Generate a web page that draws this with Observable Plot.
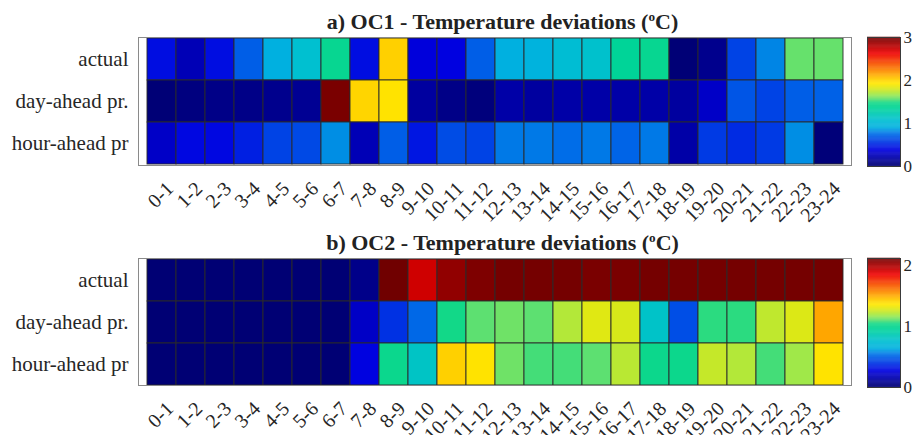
<!DOCTYPE html>
<html><head><meta charset="utf-8">
<script src="https://cdn.jsdelivr.net/npm/d3@7"></script>
<script src="https://cdn.jsdelivr.net/npm/@observablehq/plot@0.6"></script>
<style>
body{margin:0;background:#fff}
#c{position:relative;width:914px;height:435px;overflow:hidden;font-family:"Liberation Serif","Times New Roman",serif;background:#fff}
.t{position:absolute;left:146px;width:713px;text-align:center;font-weight:bold;font-size:22px;line-height:22px;color:#222;white-space:nowrap}
.t sup{font-size:0.6em;line-height:0;vertical-align:0.6em}
.p{position:absolute;overflow:visible}
</style></head>
<body><div id="c"></div>
<script>
// ---- data ----
const hours = ["0-1","1-2","2-3","3-4","4-5","5-6","6-7","7-8","8-9","9-10","10-11","11-12","12-13","13-14","14-15","15-16","16-17","17-18","18-19","19-20","20-21","21-22","22-23","23-24"];
const rowLabels = ["actual","day-ahead pr.","hour-ahead pr"];

const oc1Actual    = [0.42,0.24,0.42,0.69,0.90,1.08,1.40,0.42,2.01,0.36,0.38,0.69,0.90,0.93,1.05,1.10,1.35,1.40,0.02,0.10,0.60,0.80,1.57,1.57];
const oc1DayAhead  = [0.02,0.05,0.08,0.08,0.10,0.12,2.97,1.99,1.94,0.16,0.08,0.04,0.19,0.16,0.19,0.19,0.19,0.19,0.16,0.30,0.66,0.60,0.69,0.70];
const oc1HourAhead = [0.30,0.40,0.40,0.48,0.60,0.62,0.82,0.24,0.69,0.45,0.63,0.60,0.77,0.77,0.74,0.77,0.71,0.77,0.19,0.57,0.52,0.57,0.82,0.03];

const oc2Actual    = [0.01,0.01,0.01,0.01,0.01,0.01,0.01,0.06,2.12,1.92,2.05,2.09,2.11,2.11,2.11,2.10,2.10,2.11,2.11,2.11,2.11,2.11,2.11,2.11];
const oc2DayAhead  = [0.01,0.01,0.01,0.01,0.01,0.01,0.01,0.21,0.38,0.51,1.04,1.10,1.12,1.10,1.21,1.29,1.27,0.79,0.45,1.06,1.06,1.23,1.28,1.51];
const oc2HourAhead = [0.01,0.01,0.01,0.01,0.01,0.01,0.01,0.27,1.01,0.80,1.42,1.37,1.12,1.08,1.08,1.10,1.22,1.02,1.02,1.24,1.21,1.08,1.18,1.37];

const oc1Max = 3, oc2Max = 2.12;
const oc1Ticks = [0,1,2,3], oc2Ticks = [0,1,2];
const titles = ["a) OC1 - Temperature deviations (<sup>o</sup>C)", "b) OC2 - Temperature deviations (<sup>o</sup>C)"];

// jet colormap stops, as rendered in the reference
const jetStops  = [0,        0.11,     0.125,    0.25,     0.30,     0.36,     0.45,     0.49,     0.52,     0.55,     0.60,     0.64,     0.67,     0.71,     0.875,    1];
const jetColors = ["#000070","#0000d0","#0000e0","#0070e8","#00b0e0","#00c0d0","#00d498","#10d888","#60e070","#98e850","#d8e818","#ffe800","#ffd000","#ffa800","#ee0000","#700000"];

function colorOpts(max){
  return {type:"linear", domain: jetStops.map(s => s*max), range: jetColors, clamp:true};
}
function table(series){
  const out = [];
  series.forEach((vals, r) => vals.forEach((v, i) => out.push({hour: hours[i], row: rowLabels[r], value: v})));
  return out;
}

const font = {fontFamily:'"Liberation Serif","Times New Roman",serif', fontSize:"19px", color:"#262626", background:"transparent", overflow:"visible"};
const c = document.getElementById("c");

function panel(series, max, ticks, title, top, height, mb){
  const t = document.createElement("div");
  t.className = "t"; t.innerHTML = title; t.style.top = (top - 26) + "px";
  c.appendChild(t);

  const heat = Plot.plot({
    width: 862, height, marginLeft: 138, marginRight: 11, marginTop: 2, marginBottom: mb,
    style: font,
    x: {domain: hours, padding: 0, label: null},
    y: {domain: rowLabels, padding: 0, label: null},
    color: colorOpts(max),
    marks: [
      Plot.cell(table(series), {x:"hour", y:"row", fill:"value", stroke:"#2b2b2b", strokeWidth:0.9}),
      Plot.frame({stroke:"#8a8a8a", strokeWidth:1}),
      Plot.axisY({tickSize:0, tickPadding:10, fontSize:21}),
      Plot.axisX({tickSize:0, tickRotate:-45, tickPadding:20, dx:8, fontSize:20, textAnchor:"end"})
    ]
  });
  heat.classList.add("p"); heat.style.left = "0px"; heat.style.top = (top - 2) + "px";
  c.appendChild(heat);

  const n = 240, step = max / n;
  const bar = Plot.plot({
    width: 52, height: 134, marginLeft: 5, marginRight: 14, marginTop: 2, marginBottom: 3,
    style: font,
    x: {domain:[0,1], axis:null},
    y: {domain:[0,max], axis:null},
    color: colorOpts(max),
    marks: [
      Plot.rect(d3.range(n), {x1:0, x2:1, y1: d => d*step, y2: d => (d+1)*step + step*0.5, fill: d => (d+0.5)*step}),
      Plot.frame({stroke:"#3a3a3a", strokeWidth:1}),
      Plot.axisY({anchor:"right", ticks, tickFormat: d => String(d), tickSize:0, tickPadding:3, fontSize:17})
    ]
  });
  bar.classList.add("p"); bar.style.left = "862px"; bar.style.top = (top - 2) + "px";
  c.appendChild(bar);
}

panel([oc1Actual, oc1DayAhead, oc1HourAhead], oc1Max, oc1Ticks, titles[0], 37, 200, 70);
panel([oc2Actual, oc2DayAhead, oc2HourAhead], oc2Max, oc2Ticks, titles[1], 258, 200, 71);
</script>
</body></html>
